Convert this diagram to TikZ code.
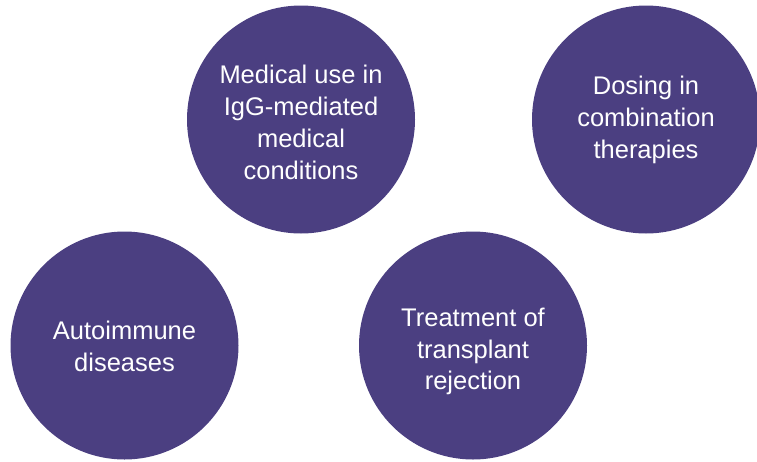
\documentclass[tikz,border=0pt]{standalone}
\usepackage{fontspec}
\setmainfont{Liberation Sans}
\definecolor{bubble}{RGB}{75,63,129}
\begin{document}
\begin{tikzpicture}[x=1pt,y=-1pt,
  bubble/.style={circle,fill=bubble,draw=none,minimum size=228pt,inner sep=0pt},
  btext/.style={text=white,align=center,inner sep=0pt,font=\fontsize{25.5}{31.8}\selectfont}]
\useasboundingbox (0,0) rectangle (757,461);
\node[bubble] (igg) at (301,119.5) {};
\node[bubble] (dose) at (646,119.5) {};
\node[bubble] (auto) at (124.5,345.5) {};
\node[bubble] (trans) at (473,345.5) {};
\node[btext] (iggt) at (301,122.5) {Medical use in\\IgG-mediated\\medical\\conditions};
\node[btext] (doset) at (646,120) {Dosing in\\combination\\therapies};
\node[btext] (autot) at (124.5,346.5) {Autoimmune\\diseases};
\node[btext] (transt) at (473,351.5) {Treatment of\\transplant\\rejection};
\end{tikzpicture}
\end{document}
